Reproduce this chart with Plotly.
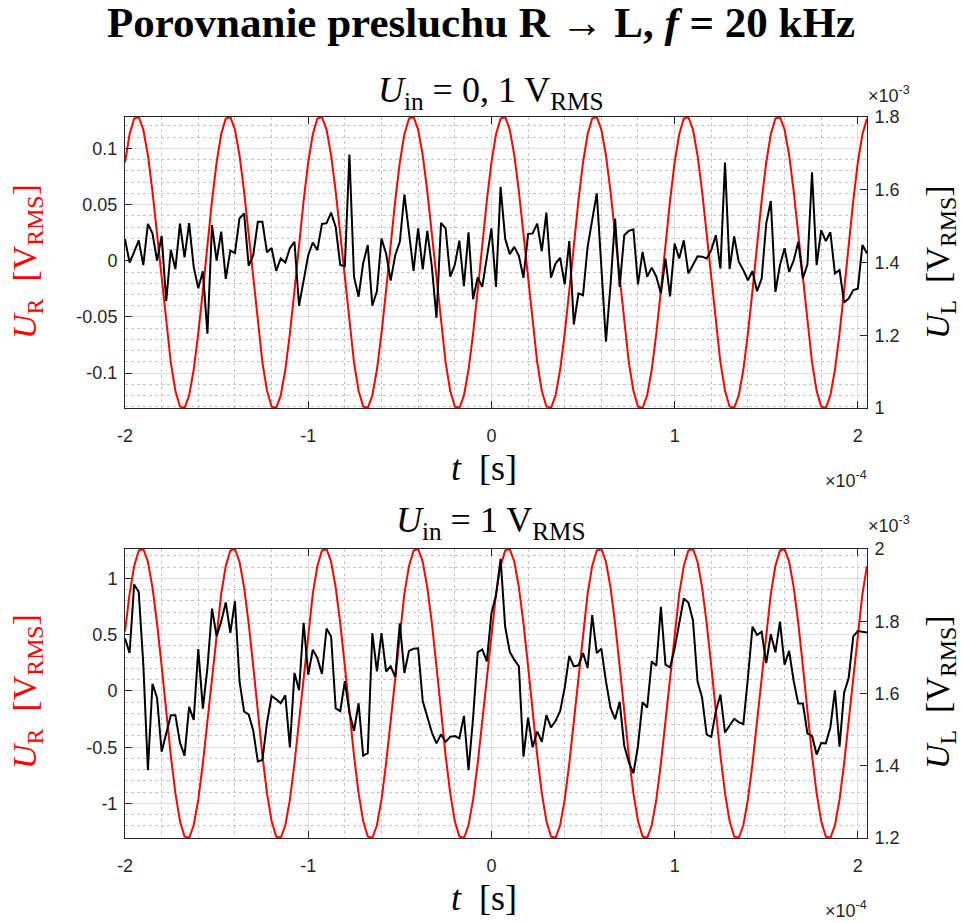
import numpy as np
import plotly.graph_objects as go

# ---------------- data ----------------
T_START = -2.0e-4      # s, first sample
T_STEP = 2.5e-6        # s, sampling period (400 kS/s)

# Red channel U_R [V_RMS], U_in = 0,1 V_RMS
UR_TOP = [
    0.0875, 0.1126, 0.1266, 0.1280, 0.1168, 0.0940, 0.0618, 0.0235, -0.0173, -0.0566,
    -0.0905, -0.1156, -0.1296, -0.1310, -0.1198, -0.0970, -0.0648, -0.0265, 0.0143, 0.0536,
    0.0875, 0.1126, 0.1266, 0.1280, 0.1168, 0.0940, 0.0618, 0.0235, -0.0173, -0.0566,
    -0.0905, -0.1156, -0.1296, -0.1310, -0.1198, -0.0970, -0.0648, -0.0265, 0.0143, 0.0536,
    0.0875, 0.1126, 0.1266, 0.1280, 0.1168, 0.0940, 0.0618, 0.0235, -0.0173, -0.0566,
    -0.0905, -0.1156, -0.1296, -0.1310, -0.1198, -0.0970, -0.0648, -0.0265, 0.0143, 0.0536,
    0.0875, 0.1126, 0.1266, 0.1280, 0.1168, 0.0940, 0.0618, 0.0235, -0.0173, -0.0566,
    -0.0905, -0.1156, -0.1296, -0.1310, -0.1198, -0.0970, -0.0648, -0.0265, 0.0143, 0.0536,
    0.0875, 0.1126, 0.1266, 0.1280, 0.1168, 0.0940, 0.0618, 0.0235, -0.0173, -0.0566,
    -0.0905, -0.1156, -0.1296, -0.1310, -0.1198, -0.0970, -0.0648, -0.0265, 0.0143, 0.0536,
    0.0875, 0.1126, 0.1266, 0.1280, 0.1168, 0.0940, 0.0618, 0.0235, -0.0173, -0.0566,
    -0.0905, -0.1156, -0.1296, -0.1310, -0.1198, -0.0970, -0.0648, -0.0265, 0.0143, 0.0536,
    0.0875, 0.1126, 0.1266, 0.1280, 0.1168, 0.0940, 0.0618, 0.0235, -0.0173, -0.0566,
    -0.0905, -0.1156, -0.1296, -0.1310, -0.1198, -0.0970, -0.0648, -0.0265, 0.0143, 0.0536,
    0.0875, 0.1126, 0.1266, 0.1280, 0.1168, 0.0940, 0.0618, 0.0235, -0.0173, -0.0566,
    -0.0905, -0.1156, -0.1296, -0.1310, -0.1198, -0.0970, -0.0648, -0.0265, 0.0143, 0.0536,
    0.0875, 0.1126, 0.1266,
]

# Left channel U_L [x1e-3 V_RMS], U_in = 0,1 V_RMS
UL_TOP = [
    1.464, 1.400, 1.429, 1.461, 1.393, 1.506, 1.480, 1.405, 1.473, 1.294,
    1.435, 1.382, 1.507, 1.414, 1.508, 1.388, 1.329, 1.376, 1.204, 1.503,
    1.405, 1.485, 1.355, 1.433, 1.426, 1.521, 1.535, 1.391, 1.420, 1.512,
    1.512, 1.428, 1.440, 1.377, 1.411, 1.400, 1.439, 1.457, 1.281, 1.350,
    1.420, 1.455, 1.434, 1.506, 1.508, 1.537, 1.498, 1.393, 1.390, 1.697,
    1.361, 1.306, 1.398, 1.448, 1.281, 1.321, 1.466, 1.425, 1.350, 1.420,
    1.457, 1.587, 1.475, 1.377, 1.494, 1.381, 1.487, 1.388, 1.248, 1.509,
    1.494, 1.361, 1.393, 1.460, 1.335, 1.483, 1.299, 1.359, 1.333, 1.416,
    1.494, 1.333, 1.608, 1.466, 1.423, 1.443, 1.418, 1.358, 1.478, 1.480,
    1.507, 1.431, 1.537, 1.358, 1.397, 1.413, 1.340, 1.459, 1.230, 1.315,
    1.310, 1.443, 1.517, 1.590, 1.388, 1.182, 1.338, 1.521, 1.333, 1.475,
    1.487, 1.491, 1.340, 1.429, 1.361, 1.386, 1.361, 1.315, 1.411, 1.307,
    1.452, 1.411, 1.461, 1.370, 1.393, 1.417, 1.416, 1.411, 1.434, 1.475,
    1.383, 1.675, 1.382, 1.472, 1.402, 1.379, 1.351, 1.376, 1.321, 1.356,
    1.507, 1.569, 1.319, 1.393, 1.439, 1.374, 1.406, 1.457, 1.356, 1.395,
    1.648, 1.393, 1.489, 1.459, 1.483, 1.370, 1.379, 1.290, 1.301, 1.324,
    1.328, 1.448, 1.425,
]

# Red channel U_R [V_RMS], U_in = 1 V_RMS
UR_BOT = [
    0.5288, 0.8637, 1.1120, 1.2493, 1.2620, 1.1489, 0.9213, 0.6013, 0.2201, -0.1847,
    -0.5738, -0.9087, -1.1570, -1.2943, -1.3070, -1.1939, -0.9663, -0.6463, -0.2651, 0.1397,
    0.5288, 0.8637, 1.1120, 1.2493, 1.2620, 1.1489, 0.9213, 0.6013, 0.2201, -0.1847,
    -0.5738, -0.9087, -1.1570, -1.2943, -1.3070, -1.1939, -0.9663, -0.6463, -0.2651, 0.1397,
    0.5288, 0.8637, 1.1120, 1.2493, 1.2620, 1.1489, 0.9213, 0.6013, 0.2201, -0.1847,
    -0.5738, -0.9087, -1.1570, -1.2943, -1.3070, -1.1939, -0.9663, -0.6463, -0.2651, 0.1397,
    0.5288, 0.8637, 1.1120, 1.2493, 1.2620, 1.1489, 0.9213, 0.6013, 0.2201, -0.1847,
    -0.5738, -0.9087, -1.1570, -1.2943, -1.3070, -1.1939, -0.9663, -0.6463, -0.2651, 0.1397,
    0.5288, 0.8637, 1.1120, 1.2493, 1.2620, 1.1489, 0.9213, 0.6013, 0.2201, -0.1847,
    -0.5738, -0.9087, -1.1570, -1.2943, -1.3070, -1.1939, -0.9663, -0.6463, -0.2651, 0.1397,
    0.5288, 0.8637, 1.1120, 1.2493, 1.2620, 1.1489, 0.9213, 0.6013, 0.2201, -0.1847,
    -0.5738, -0.9087, -1.1570, -1.2943, -1.3070, -1.1939, -0.9663, -0.6463, -0.2651, 0.1397,
    0.5288, 0.8637, 1.1120, 1.2493, 1.2620, 1.1489, 0.9213, 0.6013, 0.2201, -0.1847,
    -0.5738, -0.9087, -1.1570, -1.2943, -1.3070, -1.1939, -0.9663, -0.6463, -0.2651, 0.1397,
    0.5288, 0.8637, 1.1120, 1.2493, 1.2620, 1.1489, 0.9213, 0.6013, 0.2201, -0.1847,
    -0.5738, -0.9087, -1.1570, -1.2943, -1.3070, -1.1939, -0.9663, -0.6463, -0.2651, 0.1397,
    0.5288, 0.8637, 1.1120,
]

# Left channel U_L [x1e-3 V_RMS], U_in = 1 V_RMS
UL_BOT = [
    1.753, 1.712, 1.902, 1.881, 1.680, 1.388, 1.627, 1.588, 1.439, 1.492,
    1.540, 1.540, 1.464, 1.428, 1.563, 1.527, 1.723, 1.558, 1.671, 1.835,
    1.759, 1.799, 1.852, 1.768, 1.856, 1.634, 1.550, 1.542, 1.497, 1.412,
    1.416, 1.519, 1.593, 1.584, 1.573, 1.595, 1.451, 1.657, 1.609, 1.796,
    1.652, 1.721, 1.698, 1.654, 1.780, 1.758, 1.559, 1.551, 1.634, 1.547,
    1.497, 1.573, 1.428, 1.435, 1.767, 1.661, 1.767, 1.661, 1.675, 1.646,
    1.794, 1.657, 1.718, 1.724, 1.725, 1.579, 1.533, 1.492, 1.462, 1.487,
    1.466, 1.480, 1.482, 1.476, 1.538, 1.388, 1.533, 1.714, 1.722, 1.689,
    1.822, 1.872, 1.973, 1.785, 1.716, 1.693, 1.675, 1.425, 1.533, 1.451,
    1.495, 1.466, 1.540, 1.506, 1.524, 1.551, 1.616, 1.704, 1.675, 1.678,
    1.712, 1.671, 1.817, 1.712, 1.724, 1.634, 1.561, 1.529, 1.577, 1.455,
    1.410, 1.379, 1.455, 1.576, 1.561, 1.689, 1.677, 1.840, 1.680, 1.672,
    1.725, 1.790, 1.863, 1.852, 1.803, 1.634, 1.588, 1.486, 1.480, 1.551,
    1.597, 1.492, 1.510, 1.530, 1.521, 1.515, 1.643, 1.785, 1.762, 1.771,
    1.684, 1.764, 1.714, 1.799, 1.680, 1.718, 1.634, 1.572, 1.572, 1.489,
    1.483, 1.431, 1.463, 1.462, 1.506, 1.609, 1.453, 1.602, 1.643, 1.758,
    1.773, 1.771, 1.769,
]

X_TICKS = [-2e-4, -1e-4, 0.0, 1e-4, 2e-4]
X_TICKTEXT = ["-2", "-1", "0", "1", "2"]
YL_TOP_TICKS = [-0.1, -0.05, 0.0, 0.05, 0.1]
YL_TOP_TEXT = ["-0.1", "-0.05", "0", "0.05", "0.1"]
YL_BOT_TICKS = [-1.0, -0.5, 0.0, 0.5, 1.0]
YL_BOT_TEXT = ["-1", "-0.5", "0", "0.5", "1"]
YR_TOP_TICKS = [1.0, 1.2, 1.4, 1.6, 1.8]
YR_TOP_TEXT = ["1", "1.2", "1.4", "1.6", "1.8"]
YR_BOT_TICKS = [1.2, 1.4, 1.6, 1.8, 2.0]
YR_BOT_TEXT = ["1.2", "1.4", "1.6", "1.8", "2"]
YR_TOP_RANGE = [1.0, 1.8]
YR_BOT_RANGE = [1.2, 2.0]

TITLE = "<b>Porovnanie presluchu R \u2192 L, <i>f</i> = 20 kHz</b>"
SUB_TOP = "<i>U</i><sub>in</sub> = 0, 1 V<sub>RMS</sub>"
SUB_BOT = "<i>U</i><sub>in</sub> = 1 V<sub>RMS</sub>"
YLAB_L = "<i>U</i><sub>R</sub>  [V<sub>RMS</sub>]"
YLAB_R = "<i>U</i><sub>L</sub>  [V<sub>RMS</sub>]"
XLAB = "<i>t</i>  [s]"

# ---------------- figure ----------------
t = T_START + T_STEP * np.arange(len(UL_TOP))

RED = "#FF0000"
BLACK = "#000000"
AX = "#262626"
MAJ = "#DFDFDF"
MIN = "#C4C4C4"
SERIF = "Liberation Serif"
SANS = "Liberation Sans"

fig = go.Figure()
fig.add_trace(go.Scatter(x=t, y=UR_TOP, mode="lines", line=dict(color=RED, width=2), xaxis="x", yaxis="y"))
fig.add_trace(go.Scatter(x=t, y=UL_TOP, mode="lines", line=dict(color=BLACK, width=2), xaxis="x", yaxis="y2"))
fig.add_trace(go.Scatter(x=t, y=UR_BOT, mode="lines", line=dict(color=RED, width=2), xaxis="x2", yaxis="y3"))
fig.add_trace(go.Scatter(x=t, y=UL_BOT, mode="lines", line=dict(color=BLACK, width=2), xaxis="x2", yaxis="y4"))

tickfont = dict(family=SANS, size=18, color=AX)


def xax(anchor):
    return dict(
        domain=[0, 1], anchor=anchor, range=[t[0], t[-1]],
        tickmode="array", tickvals=X_TICKS, ticktext=X_TICKTEXT,
        ticks="inside", ticklen=7, tickcolor=AX, tickwidth=1,
        showline=True, linecolor=AX, linewidth=1, mirror="ticks",
        showgrid=True, gridcolor=MAJ, gridwidth=1, zeroline=False,
        tickfont=tickfont, ticklabelstandoff=11,
        minor=dict(tickmode="linear", tick0=-2e-4, dtick=2e-5, showgrid=True,
                   gridcolor=MIN, griddash="dot", gridwidth=1, ticks=""),
    )


def yleft(domain, anchor, rng, vals, text, mdt):
    return dict(
        domain=domain, anchor=anchor, range=rng,
        tickmode="array", tickvals=vals, ticktext=text,
        ticks="inside", ticklen=7, tickcolor=AX, tickwidth=1,
        showline=True, linecolor=AX, linewidth=1, mirror=False,
        showgrid=True, gridcolor=MAJ, gridwidth=1, zeroline=False,
        tickfont=tickfont, ticklabelstandoff=3,
        minor=dict(tickmode="linear", tick0=0, dtick=mdt, showgrid=True,
                   gridcolor=MIN, griddash="dot", gridwidth=1, ticks=""),
    )


def yright(overlay, anchor, rng, vals, text):
    return dict(
        overlaying=overlay, anchor=anchor, side="right", range=rng,
        tickmode="array", tickvals=vals, ticktext=text,
        ticks="inside", ticklen=7, tickcolor=AX, tickwidth=1,
        showline=True, linecolor=AX, linewidth=1,
        showgrid=False, zeroline=False, tickfont=tickfont, ticklabelstandoff=3,
    )


TOP_DOM = [0.5964, 1.0]
BOT_DOM = [0.0, 0.4008]

fig.update_layout(
    width=962, height=923,
    margin=dict(l=125, r=95, t=117, b=85),
    paper_bgcolor="white", plot_bgcolor="white", showlegend=False,
    title=dict(text=TITLE, x=0.5, xanchor="center", xref="container",
               y=1 - 22 / 923, yref="container", yanchor="middle",
               font=dict(family=SERIF, size=43, color="black")),
    xaxis=xax("y"),
    xaxis2=xax("y3"),
    yaxis=yleft(TOP_DOM, "x", [min(UR_TOP), max(UR_TOP)], YL_TOP_TICKS, YL_TOP_TEXT, 0.01),
    yaxis2=yright("y", "x", YR_TOP_RANGE, YR_TOP_TICKS, YR_TOP_TEXT),
    yaxis3=yleft(BOT_DOM, "x2", [min(UR_BOT), max(UR_BOT)], YL_BOT_TICKS, YL_BOT_TEXT, 0.1),
    yaxis4=yright("y3", "x2", YR_BOT_RANGE, YR_BOT_TICKS, YR_BOT_TEXT),
)

lab = dict(family=SERIF, size=34, color="black")
sub = dict(family=SERIF, size=36, color="black")
xl = dict(family=SERIF, size=36, color="black")
ann = []


def A(text, x, y, xa="center", ya="middle", font=lab, angle=0):
    ann.append(dict(text=text, x=x, y=y, xref="paper", yref="paper", xanchor=xa, yanchor=ya,
                    showarrow=False, font=font, textangle=angle))


def px_x(px):
    return (px - 125) / 742.0


def px_y(py):
    return (838 - py) / 721.0


A(SUB_TOP, px_x(490), px_y(92), font=sub)
A(SUB_BOT, px_x(490), px_y(522), font=sub)
A(XLAB, px_x(484), px_y(468), font=xl)
A(XLAB, px_x(484), px_y(898), font=xl)
A(YLAB_L, px_x(27), px_y(262), font=dict(family=SERIF, size=34, color=RED), angle=-90)
A(YLAB_L, px_x(27), px_y(692), font=dict(family=SERIF, size=34, color=RED), angle=-90)
A(YLAB_R, px_x(940), px_y(262), angle=-90)
A(YLAB_R, px_x(940), px_y(692), angle=-90)
small = dict(family=SANS, size=18, color=AX)
A("\u00d710<sup>-3</sup>", px_x(866), px_y(94), xa="left", font=small)
A("\u00d710<sup>-3</sup>", px_x(866), px_y(524), xa="left", font=small)
A("\u00d710<sup>-4</sup>", px_x(869), px_y(479), xa="right", font=small)
A("\u00d710<sup>-4</sup>", px_x(869), px_y(909), xa="right", font=small)
fig.update_layout(annotations=ann)

fig.write_html("out.html")
